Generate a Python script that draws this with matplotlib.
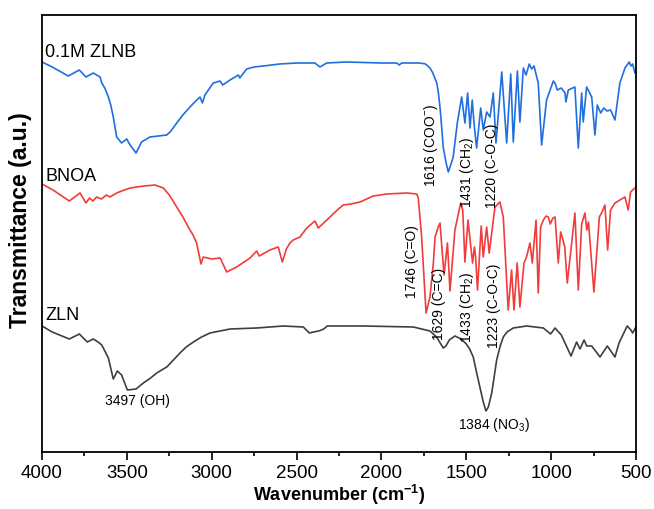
import matplotlib
matplotlib.use("Agg")
import matplotlib.pyplot as plt
import numpy as np

plt.rcParams['font.family'] = ['Liberation Sans', 'DejaVu Sans']
plt.rcParams['mathtext.default'] = 'regular'

# ---- data (wavenumber cm-1, transmittance a.u. with offsets) ----
zlnb_wn = [4000, 3940, 3845, 3780, 3741, 3698, 3658, 3648, 3630, 3609, 3595, 3580, 3560, 3531, 3501,
           3481, 3446, 3413, 3364, 3265, 3240, 3206, 3170, 3128, 3100, 3069, 3055, 3040, 2991, 2951,
           2935, 2892, 2843, 2835, 2794, 2750, 2696, 2600, 2500, 2392, 2362, 2323, 2205, 2000, 1910,
           1895, 1880, 1773, 1740, 1714, 1700, 1690, 1674, 1665, 1655, 1645, 1636, 1620, 1606, 1590,
           1577, 1553, 1527, 1508, 1492, 1478, 1465, 1455, 1439, 1415, 1400, 1380, 1360, 1341, 1325,
           1291, 1262, 1238, 1223, 1199, 1184, 1164, 1148, 1129, 1115, 1101, 1076, 1056, 1027, 987,
           975, 964, 940, 918, 913, 899, 860, 840, 820, 811, 791, 761, 742, 728, 708,
           690, 670, 650, 624, 595, 565, 540, 530, 520, 506, 500]
zlnb_t = [390, 385, 376, 382, 375, 379, 375, 369, 364, 355, 347, 335, 315, 309, 313,
          307, 299, 310, 315, 317, 321, 329, 337, 345, 350, 355, 349, 357, 369, 371,
          367, 372, 377, 374, 383, 385, 386, 388, 389, 389, 385, 389, 390, 389, 389,
          387, 389, 389, 388, 384, 380, 376, 369, 360, 345, 325, 305, 290, 280, 288,
          295, 329, 355, 329, 359, 324, 352, 330, 304, 344, 322, 340, 335, 359, 309,
          380, 309, 378, 310, 381, 330, 384, 377, 388, 383, 386, 369, 307, 352, 371,
          368, 362, 364, 359, 350, 362, 365, 304, 359, 330, 365, 355, 317, 347, 339,
          344, 341, 342, 332, 369, 384, 390, 386, 388, 379, 380]

bnoa_wn = [4000, 3935, 3839, 3776, 3741, 3720, 3700, 3678, 3650, 3620, 3600, 3560, 3530, 3481, 3400,
           3334, 3285, 3250, 3206, 3170, 3128, 3110, 3089, 3063, 3050, 3000, 2950, 2912, 2853, 2774,
           2735, 2720, 2657, 2608, 2584, 2560, 2539, 2520, 2480, 2440, 2392, 2372, 2303, 2260, 2225,
           2180, 2126, 2048, 1969, 1851, 1792, 1783, 1763, 1737, 1714, 1694, 1684, 1665, 1655, 1631,
           1611, 1596, 1567, 1533, 1521, 1508, 1490, 1463, 1452, 1445, 1434, 1412, 1400, 1380, 1365,
           1331, 1302, 1282, 1253, 1233, 1219, 1200, 1184, 1160, 1145, 1125, 1111, 1089, 1076, 1062,
           1046, 1030, 1017, 1005, 990, 977, 958, 944, 930, 920, 905, 879, 860, 840, 820,
           801, 790, 780, 748, 716, 700, 683, 667, 650, 624, 595, 565, 546, 532, 506,
           500]
bnoa_t = [268, 262, 251, 259, 249, 254, 251, 255, 253, 257, 255, 259, 261, 264, 266,
          267, 264, 257, 245, 235, 222, 217, 209, 188, 195, 193, 194, 180, 185, 194,
          201, 196, 202, 205, 190, 203, 209, 212, 215, 224, 231, 224, 235, 242, 247,
          248, 250, 256, 258, 259, 258, 254, 215, 139, 155, 189, 215, 225, 229, 177,
          209, 161, 222, 249, 242, 190, 232, 189, 205, 195, 162, 226, 195, 225, 199,
          245, 250, 235, 142, 182, 142, 189, 145, 189, 195, 209, 189, 232, 159, 225,
          232, 236, 235, 228, 234, 235, 189, 220, 212, 205, 169, 209, 239, 162, 228,
          239, 222, 230, 160, 235, 240, 247, 202, 242, 249, 252, 255, 242, 260, 264,
          265]

zln_wn = [4000, 3940, 3839, 3780, 3733, 3698, 3670, 3648, 3609, 3580, 3556, 3531, 3497, 3446, 3403,
          3360, 3324, 3265, 3220, 3187, 3150, 3108, 3060, 3010, 2892, 2735, 2578, 2460, 2425, 2400,
          2370, 2340, 2319, 2107, 1812, 1714, 1675, 1650, 1636, 1620, 1600, 1567, 1530, 1500, 1480,
          1459, 1440, 1420, 1400, 1384, 1370, 1350, 1335, 1321, 1300, 1282, 1260, 1223, 1144, 1046,
          1003, 977, 940, 883, 850, 830, 806, 790, 761, 712, 669, 624, 600, 552, 530,
          520, 500]
zln_t = [126, 120, 113, 118, 110, 113, 110, 107, 94, 73, 81, 77, 62, 63, 69,
         74, 79, 85, 93, 99, 105, 110, 115, 119, 123, 124, 126, 125, 119, 120,
         121, 123, 126, 126, 125, 121, 115, 108, 104, 106, 112, 116, 113, 108, 103,
         95, 80, 65, 50, 41, 45, 59, 76, 92, 106, 115, 120, 124, 126, 124,
         118, 124, 117, 96, 110, 103, 112, 106, 106, 95, 106, 95, 109, 126, 122,
         119, 125]

series_names = ['0.1M ZLNB', 'BNOA', 'ZLN']
x_ticks = [4000, 3500, 3000, 2500, 2000, 1500, 1000, 500]

# ---- figure ----
fig = plt.figure(figsize=(6.54, 5.09), dpi=100)
ax = fig.add_axes([42/654, 1-452/509, 594/654, 437/509])

ax.plot(zlnb_wn, zlnb_t, color='#1F6FE0', lw=1.2)
ax.plot(bnoa_wn, bnoa_t, color='#F23B3B', lw=1.2)
ax.plot(zln_wn, zln_t, color='#3F3F3F', lw=1.2)

ax.set_xlim(4000, 500)
ax.set_ylim(0, 437)
ax.set_xticks(x_ticks)
ax.set_xticks(np.arange(3750, 500, -500), minor=True)
ax.set_yticks([])
ax.tick_params(axis='x', which='major', direction='out', length=6, width=1.2, labelsize=13.5, pad=3)
ax.tick_params(axis='x', which='minor', direction='out', length=3, width=1.2)
for s in ax.spines.values():
    s.set_linewidth(1.3)

ax.set_xlabel(r'Wavenumber (cm$^{-1}$)', fontsize=13, fontweight='bold', labelpad=1)
ax.set_ylabel('Transmittance (a.u.)', fontsize=16.5, fontweight='bold')
ax.yaxis.set_label_coords(-0.016, 0.53)

# series names
ax.text(3982, 400, series_names[0], fontsize=13, ha='left', va='center')
ax.text(3982, 276, series_names[1], fontsize=13, ha='left', va='center')
ax.text(3978, 137, series_names[2], fontsize=13, ha='left', va='center')

# peak annotations
ann_fs = 10
ax.text(1708, 265, r'1616 (COO$^{-}$)', rotation=90, ha='center', va='bottom', fontsize=ann_fs)
ax.text(1496, 244, r'1431 (CH$_{2}$)', rotation=90, ha='center', va='bottom', fontsize=ann_fs)
ax.text(1349, 244, '1220 (C-O-C)', rotation=90, ha='center', va='bottom', fontsize=ann_fs)
ax.text(1820, 154, '1746 (C=O)', rotation=90, ha='center', va='bottom', fontsize=ann_fs)
ax.text(1661, 112, '1629 (C=C)', rotation=90, ha='center', va='bottom', fontsize=ann_fs)
ax.text(1496, 109, r'1433 (CH$_{2}$)', rotation=90, ha='center', va='bottom', fontsize=ann_fs)
ax.text(1337, 104, '1223 (C-O-C)', rotation=90, ha='center', va='bottom', fontsize=ann_fs)
ax.text(3440, 51, '3497 (OH)', ha='center', va='center', fontsize=ann_fs)
ax.text(1337, 27, r'1384 (NO$_{3}$)', ha='center', va='center', fontsize=ann_fs)

fig.savefig('out.png', dpi=100)
